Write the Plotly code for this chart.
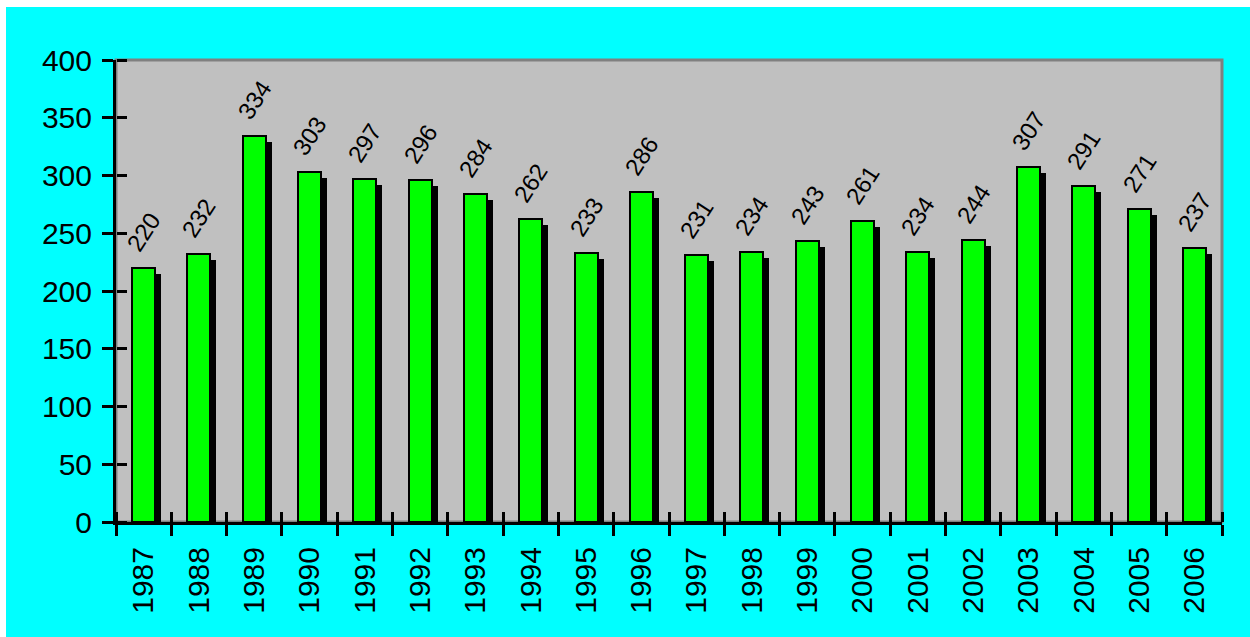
import plotly.graph_objects as go

years = ["1987", "1988", "1989", "1990", "1991", "1992", "1993", "1994", "1995", "1996",
         "1997", "1998", "1999", "2000", "2001", "2002", "2003", "2004", "2005", "2006"]
values = [220, 232, 334, 303, 297, 296, 284, 262, 233, 286,
          231, 234, 243, 261, 234, 244, 307, 291, 271, 237]
y_ticks = [0, 50, 100, 150, 200, 250, 300, 350, 400]

W, H = 1250, 637
L, R, T, B = 116, 28, 60, 115
plot_w = W - L - R
plot_h = H - T - B
n = len(years)
cat_px = plot_w / n
unit_px = plot_h / 400.0

bar_w = 23 / cat_px
shadow_dx = 6 / cat_px
shadow_dy = 6 / unit_px
label_gap = 9 / unit_px

font_family = "Liberation Sans, Arial, sans-serif"
xr = [-0.5, n - 0.5]
boundaries = [i - 0.5 for i in range(n + 1)]

fig = go.Figure()
# shadow bars
fig.add_trace(go.Bar(
    x=years, y=[v - shadow_dy for v in values],
    width=bar_w, offset=-bar_w / 2 + shadow_dx,
    marker=dict(color="black", line=dict(width=0)),
    hoverinfo="skip", showlegend=False,
))
# green bars
fig.add_trace(go.Bar(
    x=years, y=values,
    width=bar_w, offset=-bar_w / 2,
    marker=dict(color="#00FF00", line=dict(color="black", width=2)),
    showlegend=False,
))
# value labels (transparent carrier bars)
fig.add_trace(go.Bar(
    x=years, y=[v + label_gap for v in values],
    width=bar_w, offset=-bar_w / 2,
    marker=dict(color="rgba(0,0,0,0)", line=dict(width=0)),
    text=[str(v) for v in values], textposition="outside", textangle=-57,
    constraintext="none", cliponaxis=False,
    textfont=dict(family=font_family, size=24, color="black"),
    hoverinfo="skip", showlegend=False,
))
# invisible helper so the inner-tick axes are drawn
fig.add_trace(go.Scatter(
    x=[0], y=[0], xaxis="x2", yaxis="y2", mode="markers",
    marker=dict(opacity=0), hoverinfo="skip", showlegend=False,
))

shapes = [
    dict(type="rect", xref="paper", yref="paper",
         x0=(6 - L) / plot_w, x1=(W + 10 - L) / plot_w,
         y0=-(B + 10) / plot_h, y1=(H - B - 7) / plot_h,
         fillcolor="#00FFFF", line=dict(width=0), layer="below"),
    dict(type="rect", xref="paper", yref="paper", x0=0, x1=1, y0=0, y1=1,
         fillcolor="#C0C0C0", line=dict(color="#808080", width=3), layer="below"),
]

fig.update_layout(
    width=W, height=H,
    margin=dict(l=L, r=R, t=T, b=B, pad=0),
    paper_bgcolor="white", plot_bgcolor="rgba(0,0,0,0)",
    barmode="overlay", bargap=0,
    shapes=shapes,
    font=dict(family=font_family, size=30, color="black"),
    xaxis=dict(type="category", categoryorder="array", categoryarray=years,
               range=xr,
               showline=True, linecolor="black", linewidth=3,
               ticks="outside", tickson="boundaries", ticklen=11, tickwidth=3, tickcolor="black",
               tickangle=-90, ticklabelstandoff=10, showgrid=False, zeroline=False,
               tickfont=dict(family=font_family, size=30, color="black")),
    yaxis=dict(range=[0, 400], tickvals=y_ticks, showline=True, linecolor="black", linewidth=3,
               ticks="outside", ticklen=11, tickwidth=3, tickcolor="black",
               ticklabelstandoff=4, showgrid=False, zeroline=False,
               tickfont=dict(family=font_family, size=30, color="black")),
    xaxis2=dict(type="linear", range=xr, tickvals=boundaries, overlaying="x",
                side="top", anchor="free", position=0,
                ticks="outside", ticklen=10, tickwidth=3, tickcolor="black",
                showticklabels=False, showline=False, showgrid=False, zeroline=False),
    yaxis2=dict(type="linear", range=[0, 400], tickvals=y_ticks, overlaying="y",
                side="right", anchor="free", position=0,
                ticks="outside", ticklen=10, tickwidth=3, tickcolor="black",
                showticklabels=False, showline=False, showgrid=False, zeroline=False),
)

fig.write_html("out.html")
